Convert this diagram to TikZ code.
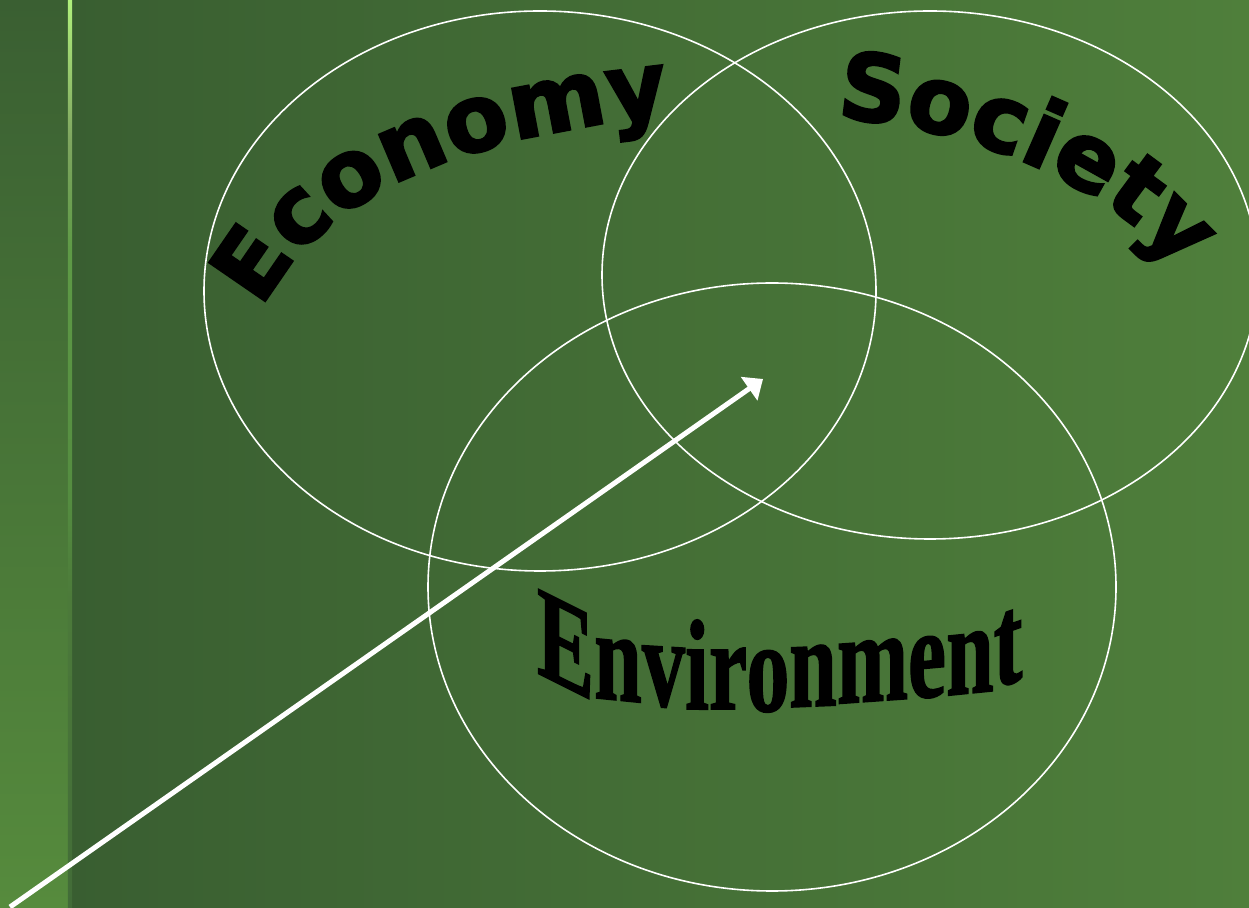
\documentclass[tikz,border=0pt]{standalone}
\usepackage{fontspec}
\usetikzlibrary{decorations.text,arrows.meta}

\newfontfamily\wordfont[BoldFeatures={FakeBold=2.5}]{DejaVu Sans}
\newfontfamily\envfont[BoldFeatures={FakeBold=1.5}]{Liberation Serif}

\definecolor{bgleft}{HTML}{395E31}
\definecolor{bgright}{HTML}{4F7F3B}
\definecolor{striptop}{HTML}{3A5F32}
\definecolor{stripbottom}{HTML}{568B3D}
\definecolor{accA}{HTML}{426C38}
\definecolor{accB}{HTML}{4C7A3A}
\definecolor{accC}{HTML}{548C40}
\definecolor{accD}{HTML}{5E9A46}
\definecolor{accE}{HTML}{7FA660}
\definecolor{accF}{HTML}{9CD070}
\definecolor{accG}{HTML}{B0F07C}

% thin accent line on the left border, bright at the top and fading down
\pgfdeclareverticalshading{accentline}{100bp}{%
  color(0bp)=(accA); color(25bp)=(accA); color(42bp)=(accB);
  color(47.4bp)=(accC); color(61.2bp)=(accD); color(67.3bp)=(accE);
  color(71.7bp)=(accF); color(75bp)=(accG); color(100bp)=(accG)}

\tikzset{
  ring/.style={draw=white, line width=1.6pt},
  pointer/.style={draw=white, line width=5pt, -{Triangle[length=17pt,width=28pt]}},
  arcword/.style={decorate, decoration={text along path, text align=left,
      text color=black, text={|\wordfont\bfseries\fontsize{93}{93}\selectfont|#1}}},
  envletter/.style={inner sep=0pt, anchor=base, text=black,
      font=\envfont\bfseries\fontsize{85.6}{86}\selectfont}
}

\begin{document}
\begin{tikzpicture}[x=1pt,y=1pt]
\useasboundingbox (0,0) rectangle (1249,907);

% background
\shade[left color=bgleft, right color=bgright] (68,0) rectangle (1249,907);
\shade[top color=striptop, bottom color=stripbottom] (0,0) rectangle (68,907);
\shade[shading=accentline] (67.8,0) rectangle (72,907);

% the three circles
\draw[ring] (540,616) ellipse [x radius=336, y radius=280];
\draw[ring] (930,632) ellipse [x radius=328, y radius=264];
\draw[ring] (772,320) ellipse [x radius=344, y radius=304];

% arched words
\path[arcword=Economy] (262,598) .. controls (330,730) and (500,772) .. (650,789) -- ++(10:80);
\path[arcword=Society] (836,789) .. controls (966,781) and (1115,725) .. (1190,622) -- ++(-62:80);

% warped word, one letter at a time
\foreach \ch/\xc/\yb/\sl [count=\i] in {
  E/565.5/220/-0.5, n/618/207/-0.1, v/663.5/201/-0.06, i/697/198/-0.02,
  r/728/198/0, o/768/196/0.02, n/813/201/0.04, m/872.5/206/0.07,
  e/927/210/0.09, n/970/214/0.1, t/1008/223/0.35}
  \node[envletter, yslant=\sl, yscale=1.5] (env-\i) at (\xc,\yb) {\ch};

% arrow into the common centre
\coordinate (arrowtail) at (10,0);
\coordinate (arrowtip) at (763,528);
\draw[pointer] (arrowtail) -- (arrowtip);
\end{tikzpicture}
\end{document}
